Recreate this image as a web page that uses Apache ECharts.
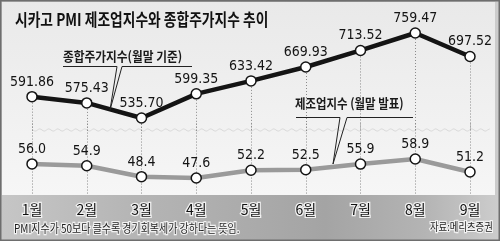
<!DOCTYPE html>
<html>
<head>
<meta charset="utf-8">
<script src="https://cdn.jsdelivr.net/npm/echarts@6/dist/echarts.min.js"></script>
<style>
html,body{margin:0;padding:0;background:#fff;}
#c{width:500px;height:241px;}
</style>
</head>
<body>
<div id="c"></div>
<script>
// ---- data ----
var months = ['1월','2월','3월','4월','5월','6월','7월','8월','9월'];
var kospi = [591.86, 575.43, 535.70, 599.35, 633.42, 669.93, 713.52, 759.47, 697.52];
var pmi = [56.0, 54.9, 48.4, 47.6, 52.2, 52.5, 55.9, 58.9, 51.2];

var numFont = "'Liberation Sans Narrow','DejaVu Sans Condensed','Liberation Sans',sans-serif";
var krFont = "'Noto Sans CJK KR','Noto Sans',sans-serif";

var chart = echarts.init(document.getElementById('c'), null, {renderer:'canvas'});

// wavy break line (decoration)
var wave = [];
for (var x = 33; x <= 490; x += 2.25) {
  wave.push([x, 130 + 1.1 * Math.sin(2 * Math.PI * (x - 33) / 9)]);
}

var option = {
  animation: false,
  backgroundColor: '#b4b4b4',
  grid: [
    {left: 32, right: 30, top: 17.6, height: 113.96},
    {left: 32, right: 30, top: 123.55, height: 71.45}
  ],
  xAxis: [
    {type:'category', gridIndex:0, data: months, boundaryGap:false,
     axisLine:{show:false}, axisTick:{show:false}, axisLabel:{show:false}, splitLine:{show:false}},
    {type:'category', gridIndex:1, data: months, boundaryGap:false,
     axisLine:{show:false}, axisTick:{show:false},
     axisLabel:{show:true, margin:8, fontSize:14, fontFamily:krFont, color:'#111',
                textBorderColor:'#f0f0f0', textBorderWidth:2.5},
     splitLine:{show:true, lineStyle:{color:'#8a8a8a', type:[1,2], width:1}}}
  ],
  yAxis: [
    {type:'value', gridIndex:0, min:500, max:800, show:false, splitLine:{show:false}},
    {type:'value', gridIndex:1, min:37.5, max:80, show:false, splitLine:{show:false}}
  ],
  series: [
    {
      type:'line', xAxisIndex:0, yAxisIndex:0, data: kospi, z:5,
      lineStyle:{color:'#141414', width:4.5},
      symbol:'circle', symbolSize:10,
      itemStyle:{color:'#ffffff', borderColor:'#141414', borderWidth:1.5},
      label:{show:true, position:'top', distance:2, fontSize:14, fontFamily:numFont, color:'#141414',
             formatter:function(p){return p.value.toFixed(2);}},
      markLine:{
        silent:true, symbol:'none', animation:false, z:1,
        lineStyle:{color:'#8a8a8a', type:[1,2], width:1},
        label:{show:false},
        data: kospi.map(function(v,i){return [{coord:[i,v]},{coord:[i,500]}];})
      }
    },
    {
      type:'line', xAxisIndex:1, yAxisIndex:1, data: pmi, z:5,
      lineStyle:{color:'#9a9a9a', width:4.5},
      symbol:'circle', symbolSize:10,
      itemStyle:{color:'#ffffff', borderColor:'#141414', borderWidth:1.5},
      label:{show:true, position:'top', distance:2, fontSize:14, fontFamily:numFont, color:'#141414',
             formatter:function(p){return p.value.toFixed(1);}}
    }
  ],
  graphic: [
    {type:'rect', z:-100, shape:{x:0,y:0,width:500,height:241},
     style:{fill:new echarts.graphic.LinearGradient(0,0,1,0,[
       {offset:0,color:'#c6c6c6'},{offset:0.25,color:'#b6b6b6'},{offset:0.45,color:'#adadad'},
       {offset:0.65,color:'#a4a4a4'},{offset:0.85,color:'#b4b4b4'},{offset:1,color:'#cdcdcd'}])}},
    {type:'rect', z:-90, shape:{x:2,y:2,width:493,height:193},
     style:{fill:new echarts.graphic.LinearGradient(0,0,0,1,[
       {offset:0,color:'#e9e9e9'},{offset:1,color:'#f6f6f6'}])}},
    {type:'rect', z:-80, shape:{x:0.75,y:0.75,width:498.5,height:239.5},
     style:{fill:null, stroke:'#6e6e6e', lineWidth:1.5}},
    {type:'polyline', z:-70, shape:{points:wave, smooth:0.5}, style:{stroke:'#d2d2d2', lineWidth:0.8, fill:'none'}},
    {type:'text', z:50, x:15, y:20, scaleX:0.81,
     style:{text:'시카고 PMI 제조업지수와 종합주가지수 추이', fontSize:17, fontWeight:'bold',
            fontFamily:krFont, fill:'#111', verticalAlign:'middle'}},
    {type:'text', z:50, x:63, y:56, scaleX:0.9,
     style:{text:'종합주가지수(월말 기준)', fontSize:13, fontWeight:'bold', fontFamily:krFont, fill:'#1a1a1a', verticalAlign:'middle'}},
    {type:'polyline', z:50, shape:{points:[[63,66.5],[117,66.5],[110,110],[122,66.5],[192,66.5]]},
     style:{stroke:'#222', lineWidth:1, fill:'none'}},
    {type:'text', z:50, x:295, y:103, scaleX:0.88,
     style:{text:'제조업지수 (월말 발표)', fontSize:13, fontWeight:'bold', fontFamily:krFont, fill:'#1a1a1a', verticalAlign:'middle'}},
    {type:'polyline', z:50, shape:{points:[[296,117.5],[340,117.5],[333,164],[347,117.5],[413,117.5]]},
     style:{stroke:'#222', lineWidth:1, fill:'none'}},
    {type:'text', z:50, x:14, y:228, scaleX:0.83,
     style:{text:'PMI지수가 50보다 클수록 경기회복세가 강하다는 뜻임.', fontSize:12, fontFamily:krFont,
            fill:'#1e1e1e', stroke:'#f2f2f2', lineWidth:2.5, verticalAlign:'middle'}},
    {type:'text', z:50, x:430, y:227, scaleX:0.85,
     style:{text:'자료:메리츠증권', fontSize:11, fontFamily:krFont,
            fill:'#1e1e1e', stroke:'#f2f2f2', lineWidth:2.5, verticalAlign:'middle'}}
  ]
};
chart.setOption(option);
</script>
</body>
</html>
